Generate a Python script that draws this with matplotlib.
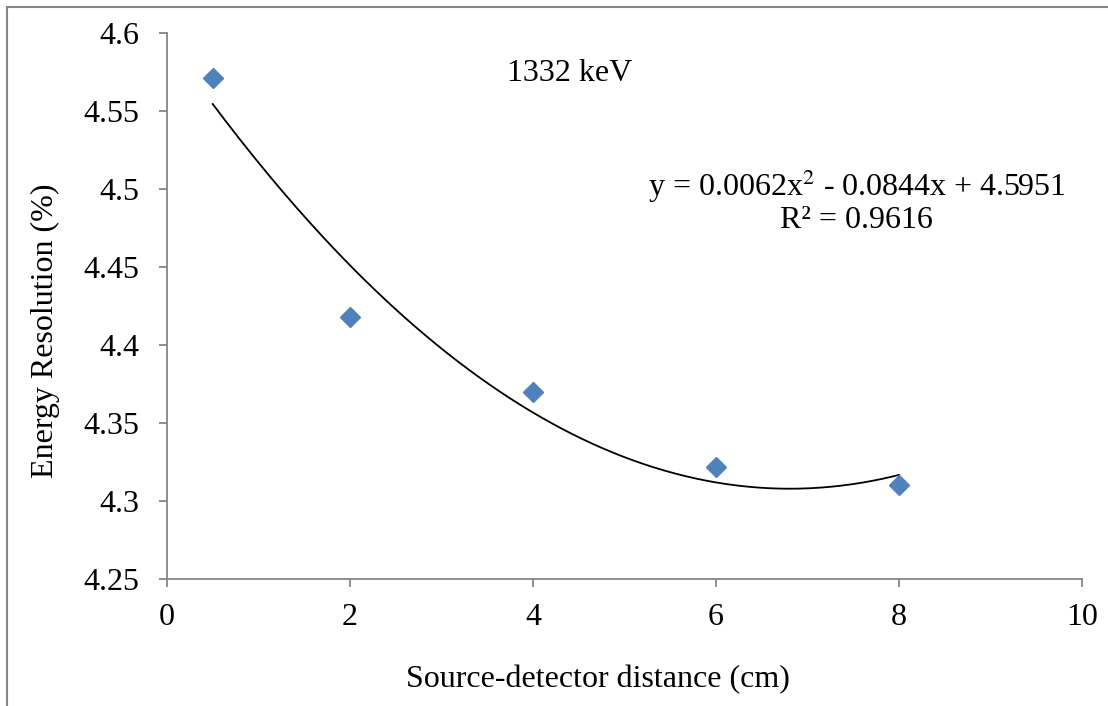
import numpy as np
import matplotlib.pyplot as plt
from matplotlib.patches import Rectangle

# data
distance_cm = [0.5, 2, 4, 6, 8]
resolution_pct = [4.571, 4.418, 4.370, 4.322, 4.310]

x_ticks = [0, 2, 4, 6, 8, 10]
y_ticks = [4.25, 4.3, 4.35, 4.4, 4.45, 4.5, 4.55, 4.6]
y_tick_labels = ['4.25', '4.3', '4.35', '4.4', '4.45', '4.5', '4.55', '4.6']

# trendline coefficients shown on the chart (2nd order polynomial)
trend_coeffs = [0.0062, -0.0844, 4.5951]

plt.rcParams['font.family'] = ['Liberation Serif', 'DejaVu Serif']
gray = '#868686'
fs = 23

fig = plt.figure(figsize=(11.08, 7.06), dpi=100)
ax = fig.add_axes([0.1507, 0.1799, 0.8258, 0.7734])

# outer chart frame, cut off at right/bottom like the reference
fig.patches.append(Rectangle((7 / 1108, -0.05), 1.2, 1 - 7 / 706 + 0.05,
                             transform=fig.transFigure, fill=False,
                             edgecolor=gray, linewidth=1.5))

xs = np.linspace(distance_cm[0], distance_cm[-1], 200)
ax.plot(xs, np.polyval(trend_coeffs, xs), color='black', linewidth=1.3)
ax.plot(distance_cm, resolution_pct, linestyle='none', marker='D',
        markersize=10, color='#4F81BD')

ax.set_xlim(0, 10)
ax.set_ylim(4.25, 4.6)
ax.set_xticks(x_ticks)
ax.set_yticks(y_ticks)
ax.set_yticklabels(y_tick_labels)

for side in ['top', 'right']:
    ax.spines[side].set_visible(False)
for side in ['left', 'bottom']:
    ax.spines[side].set_color(gray)
    ax.spines[side].set_linewidth(1.3)
ax.tick_params(axis='both', direction='out', length=6, width=1.3,
               color=gray, labelsize=fs)
ax.tick_params(axis='x', pad=11)
ax.tick_params(axis='y', pad=14)

ax.set_xlabel('Source-detector distance (cm)', fontsize=fs)
ax.set_ylabel('Energy Resolution (%)', fontsize=fs)
ax.xaxis.set_label_coords(0.4705, -0.185)
ax.yaxis.set_label_coords(-0.133, 0.454)
ax.xaxis.label.set_va('center')
ax.yaxis.label.set_va('center')

ax.text(4.4, 4.574, '1332 keV', fontsize=fs, ha='center', va='center')
ax.text(7.54, 4.502, 'y = 0.0062x$^2$ - 0.0844x + 4.5951', fontsize=fs,
        ha='center', va='center', math_fontfamily='stix')
ax.text(7.54, 4.480, 'R² = 0.9616', fontsize=fs, ha='center', va='center')

fig.savefig('out.png', dpi=100)
